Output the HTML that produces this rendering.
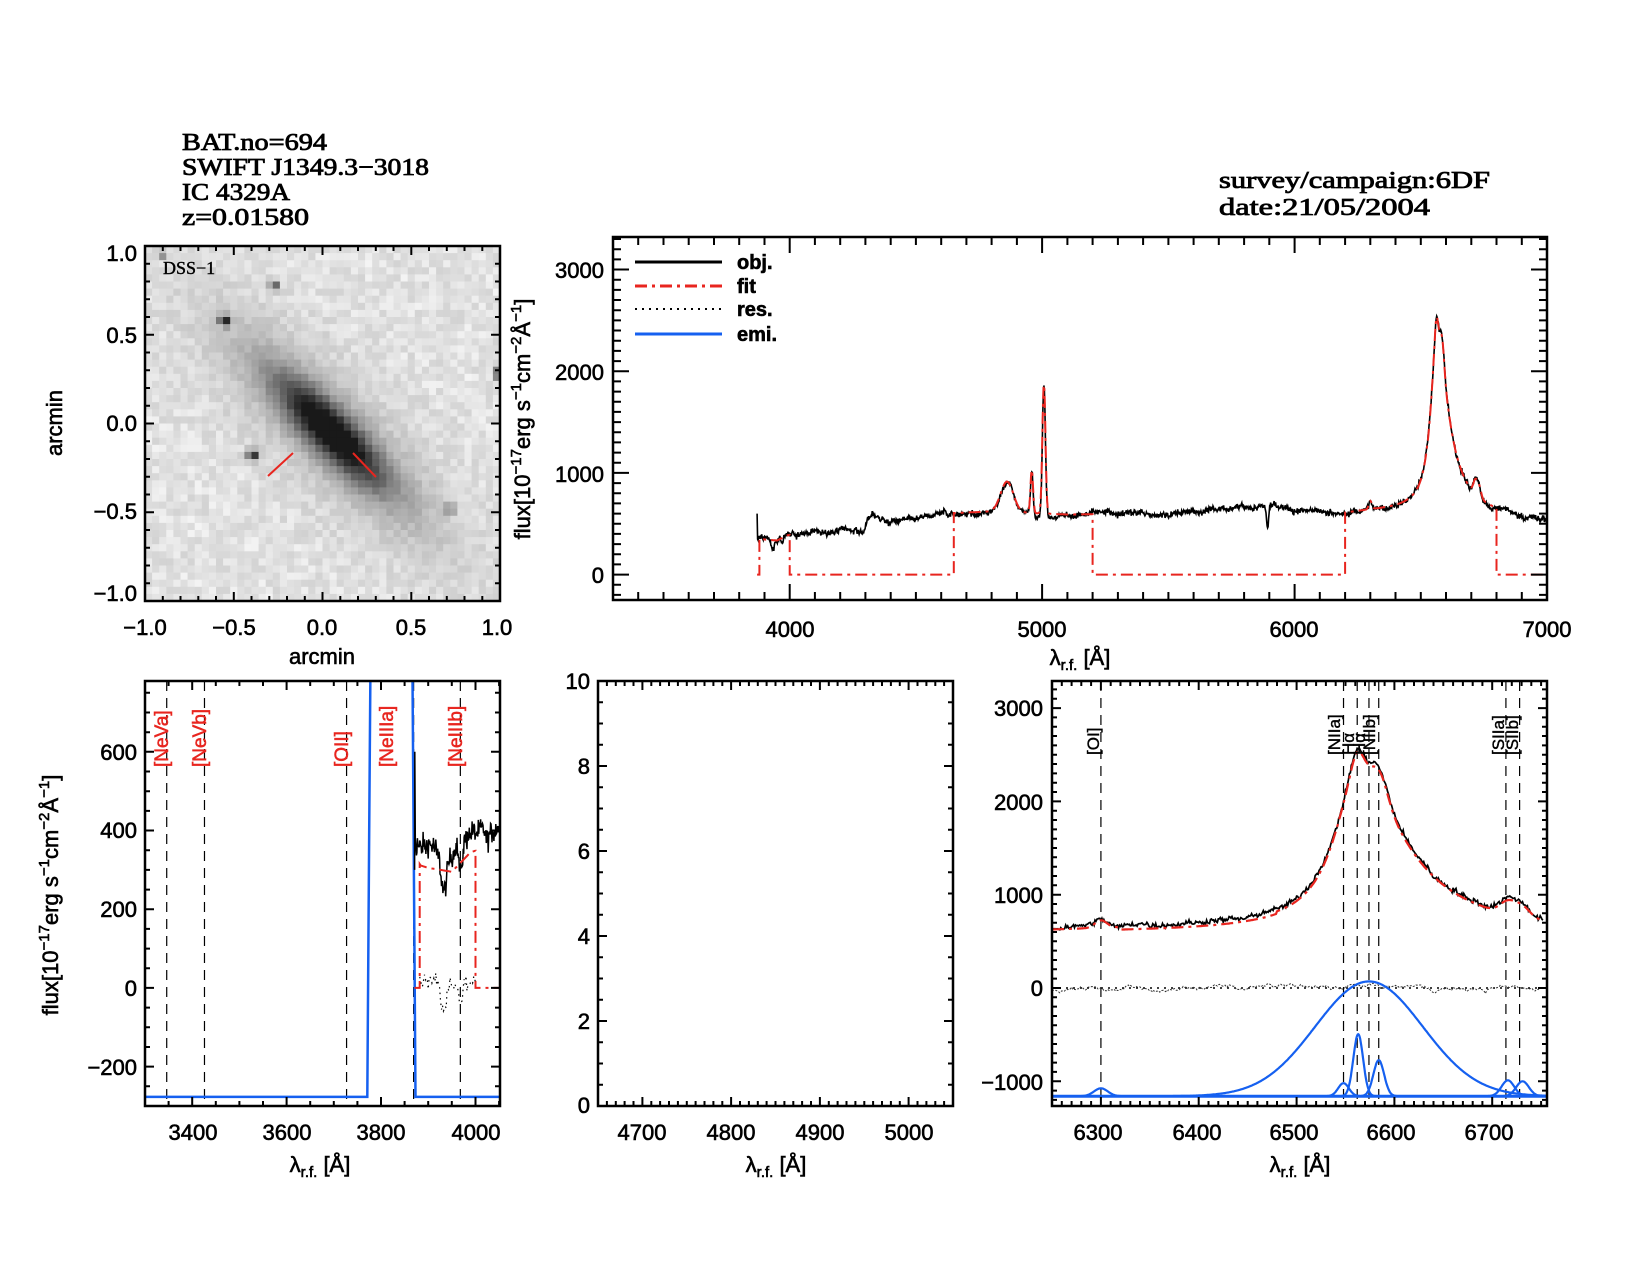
<!DOCTYPE html>
<html><head><meta charset="utf-8"><style>
html,body{margin:0;padding:0;background:#fff;}
svg{display:block;}
.t{font-family:"Liberation Sans",sans-serif;font-size:22px;fill:#000;stroke:#000;stroke-width:0.6;}
.h{font-family:"Liberation Serif",serif;font-size:24px;fill:#000;stroke:#000;stroke-width:0.8;}
.r{font-family:"Liberation Sans",sans-serif;font-size:19px;fill:#e8251f;stroke:#e8251f;stroke-width:0.5;}
.k{font-family:"Liberation Sans",sans-serif;font-size:17px;fill:#000;stroke:#000;stroke-width:0.4;}
</style></head><body>
<svg id="s" width="1650" height="1275" viewBox="0 0 1650 1275" xmlns="http://www.w3.org/2000/svg">
<defs>
<clipPath id="cImg"><rect x="145" y="246" width="355" height="355"/></clipPath>
<clipPath id="cTop"><rect x="613" y="237" width="934" height="363"/></clipPath>
<clipPath id="cBL"><rect x="145" y="681" width="355" height="425"/></clipPath>
<clipPath id="cBR"><rect x="1052" y="681" width="495" height="425"/></clipPath>
</defs>
<rect width="1650" height="1275" fill="#fff"/>
<g id="imgg" clip-path="url(#cImg)"></g>
<g id="topg" clip-path="url(#cTop)"></g>
<g id="blg" clip-path="url(#cBL)"></g>
<g id="brg" clip-path="url(#cBR)"></g>

<text class="h" x="182" y="150" textLength="145" lengthAdjust="spacingAndGlyphs">BAT.no=694</text>
<text class="h" x="182" y="175" textLength="247" lengthAdjust="spacingAndGlyphs">SWIFT J1349.3−3018</text>
<text class="h" x="182" y="200" textLength="108" lengthAdjust="spacingAndGlyphs">IC 4329A</text>
<text class="h" x="182" y="225" textLength="127" lengthAdjust="spacingAndGlyphs">z=0.01580</text>
<text class="h" x="1219" y="188" textLength="271" lengthAdjust="spacingAndGlyphs">survey/campaign:6DF</text>
<text class="h" x="1219" y="215" textLength="211" lengthAdjust="spacingAndGlyphs">date:21/05/2004</text>

<text class="h" x="163" y="274" style="font-size:18px;stroke-width:0.4">DSS−1</text>
<g class="t" text-anchor="end">
<text x="137" y="261">1.0</text><text x="137" y="343">0.5</text><text x="137" y="431">0.0</text><text x="137" y="519">−0.5</text><text x="137" y="601">−1.0</text>
</g>
<g class="t" text-anchor="middle">
<text x="145" y="635">−1.0</text><text x="234" y="635">−0.5</text><text x="322" y="635">0.0</text><text x="411" y="635">0.5</text><text x="497" y="635">1.0</text>
<text x="322" y="664">arcmin</text>
<text transform="translate(62,423) rotate(-90)">arcmin</text>
</g>

<g class="t" text-anchor="end">
<text x="604" y="278">3000</text><text x="604" y="380">2000</text><text x="604" y="482">1000</text><text x="604" y="583">0</text>
</g>
<g class="t" text-anchor="middle">
<text x="790" y="637">4000</text><text x="1042" y="637">5000</text><text x="1294" y="637">6000</text><text x="1547" y="637">7000</text>
<text x="1080" y="665">λ<tspan font-size="15" dy="5">r.f.</tspan><tspan dy="-5"> [Å]</tspan></text>
<text transform="translate(530,419) rotate(-90)">flux[10<tspan dy="-9" font-size="15">−17</tspan><tspan dy="9">erg s</tspan><tspan dy="-9" font-size="15">−1</tspan><tspan dy="9">cm</tspan><tspan dy="-9" font-size="15">−2</tspan><tspan dy="9">Å</tspan><tspan dy="-9" font-size="15">−1</tspan><tspan dy="9">]</tspan></text>
</g>
<g class="t" style="font-weight:bold;font-size:20px">
<text x="737" y="269">obj.</text><text x="737" y="293">fit</text><text x="737" y="316">res.</text><text x="737" y="341">emi.</text>
</g>

<g class="t" text-anchor="end">
<text x="137" y="760">600</text><text x="137" y="838">400</text><text x="137" y="917">200</text><text x="137" y="996">0</text><text x="137" y="1075">−200</text>
</g>
<g class="t" text-anchor="middle">
<text x="193" y="1140">3400</text><text x="287" y="1140">3600</text><text x="381" y="1140">3800</text><text x="476" y="1140">4000</text>
<text x="320" y="1172">λ<tspan font-size="15" dy="5">r.f.</tspan><tspan dy="-5"> [Å]</tspan></text>
<text transform="translate(58,895) rotate(-90)">flux[10<tspan dy="-9" font-size="15">−17</tspan><tspan dy="9">erg s</tspan><tspan dy="-9" font-size="15">−1</tspan><tspan dy="9">cm</tspan><tspan dy="-9" font-size="15">−2</tspan><tspan dy="9">Å</tspan><tspan dy="-9" font-size="15">−1</tspan><tspan dy="9">]</tspan></text>
</g>
<g class="r">
<text transform="translate(168,767) rotate(-90)">[NeVa]</text>
<text transform="translate(206,767) rotate(-90)">[NeVb]</text>
<text transform="translate(348,767) rotate(-90)">[OII]</text>
<text transform="translate(393,767) rotate(-90)">[NeIIIa]</text>
<text transform="translate(462,767) rotate(-90)">[NeIIIb]</text>
</g>

<g class="t" text-anchor="end">
<text x="590" y="689">10</text><text x="590" y="774">8</text><text x="590" y="859">6</text><text x="590" y="944">4</text><text x="590" y="1029">2</text><text x="590" y="1113">0</text>
</g>
<g class="t" text-anchor="middle">
<text x="642" y="1140">4700</text><text x="731" y="1140">4800</text><text x="820" y="1140">4900</text><text x="909" y="1140">5000</text>
<text x="776" y="1172">λ<tspan font-size="15" dy="5">r.f.</tspan><tspan dy="-5"> [Å]</tspan></text>
</g>

<g class="t" text-anchor="end">
<text x="1043" y="716">3000</text><text x="1043" y="810">2000</text><text x="1043" y="903">1000</text><text x="1043" y="996">0</text><text x="1043" y="1090">−1000</text>
</g>
<g class="t" text-anchor="middle">
<text x="1098" y="1140">6300</text><text x="1197" y="1140">6400</text><text x="1294" y="1140">6500</text><text x="1391" y="1140">6600</text><text x="1489" y="1140">6700</text>
<text x="1300" y="1172">λ<tspan font-size="15" dy="5">r.f.</tspan><tspan dy="-5"> [Å]</tspan></text>
</g>
<g class="k">
<text transform="translate(1099,755) rotate(-90)">[OI]</text>
<text transform="translate(1340,755) rotate(-90)">[NIIa]</text>
<text transform="translate(1354,755) rotate(-90)">Hα</text>
<text transform="translate(1365,755) rotate(-90)">Hα</text>
<text transform="translate(1375,755) rotate(-90)">[NIIb]</text>
<text transform="translate(1504,755) rotate(-90)">[SIIa]</text>
<text transform="translate(1518,755) rotate(-90)">[SIIb]</text>
</g>
</svg>
<script>
const NS='http://www.w3.org/2000/svg';
const svg=document.getElementById('s');
function el(tag,a,parent){const e=document.createElementNS(NS,tag);for(const k in a)e.setAttribute(k,a[k]);(parent||svg).appendChild(e);return e;}
let seed=12345;function rnd(){seed=(seed*1103515245+12345)%2147483648;return seed/2147483648;}
function gn(){return (rnd()+rnd()+rnd()+rnd()-2)*1.7;}
function panel(x0,x1,y0,y1,xa,xb,ya,yb){const p={x0,x1,y0,y1,xa,xb,ya,yb};
 p.X=v=>x0+(v-xa)/(xb-xa)*(x1-x0);p.Y=v=>y1-(v-ya)/(yb-ya)*(y1-y0);return p;}
function ticks(p,xmaj,xmin,ymaj,ymin,L,l){
 let d='';
 for(let i=Math.ceil(p.xa/xmin-1e-9);i*xmin<=p.xb+1e-9;i++){const v=i*xmin,x=p.X(v).toFixed(1);
  const m=Math.abs(v/xmaj-Math.round(v/xmaj))<1e-6;const t=m?L:l;d+=`M${x} ${p.y1}v${-t}M${x} ${p.y0}v${t}`;}
 for(let i=Math.ceil(p.ya/ymin-1e-9);i*ymin<=p.yb+1e-9;i++){const v=i*ymin,y=p.Y(v).toFixed(1);
  const m=Math.abs(v/ymaj-Math.round(v/ymaj))<1e-6;const t=m?L:l;d+=`M${p.x0} ${y}h${t}M${p.x1} ${y}h${-t}`;}
 el('path',{d,stroke:'#000','stroke-width':2,fill:'none'});
 el('rect',{x:p.x0,y:p.y0,width:p.x1-p.x0,height:p.y1-p.y0,fill:'none',stroke:'#000','stroke-width':2.5});
}
function pth(p,pts,a,g){let d='';pts.forEach((q,i)=>{d+=(i?'L':'M')+p.X(q[0]).toFixed(1)+' '+p.Y(q[1]).toFixed(1);});
 const o={d,fill:'none'};for(const k in a)o[k]=a[k];return el('path',o,g);}
const G=(l,c,a,s)=>a*Math.exp(-0.5*((l-c)/s)**2);
const K=[[3860,360],[3900,345],[3950,335],[3990,385],[4050,405],[4100,420],[4290,440],[4300,520],[4330,600],[4360,560],[4400,520],[4600,600],[4700,610],[4800,620],[5100,590],[5500,600],[5800,660],[5880,700],[5950,650],[6200,600],[6300,625],[6450,640],[6650,620],[6800,570],[7000,525]];
function cont(l){for(let i=0;i<K.length-1;i++){if(l<=K[i+1][0]){const f=(l-K[i][0])/(K[i+1][0]-K[i][0]);return K[i][1]+f*(K[i+1][1]-K[i][1]);}}return 525;}
function lines(l){let v=0;
 v+=G(l,4861,300,25)+G(l,4959,430,5)+G(l,5007,1280,6)+G(l,5893,-230,4)+G(l,6300,80,6);
 v+=G(l,3934,-100,6)+G(l,3968,-70,4);
 const d=l-6563,g=d<0?29:55;v+=1700/(1+(d/g)**2)+G(l,6563,200,6)+G(l,6585,230,8)+G(l,6716,130,8)+G(l,6731,110,8);
 return v;}
const noise={};for(let l=3860;l<=7010;l++){noise[l]=gn()*14;}
let sm=0;const slow={};for(let l=3860;l<=7010;l++){sm=sm*0.97+gn()*4;slow[l]=sm;}
function obj(l){const li=Math.round(l);let v=cont(l)+lines(l)+noise[li]+slow[li];if(l<3873)v=600;return v;}
function model(l){return cont(l)+lines(l)-G(l,3934,-100,6)-G(l,3968,-70,4)-G(l,5893,-230,4);}

(function(){const g=document.getElementById('imgg');const N=50,cs=355/N;
 const cx=0.05,cy=-0.05;const ca=Math.cos(-Math.PI/4),sa=Math.sin(-Math.PI/4);
 const stars=[[-0.55,0.58,0.9,0.03],[-0.27,0.78,0.6,0.025],[-0.39,-0.18,0.85,0.03],[1.0,0.28,0.9,0.03],[0.72,-0.48,0.5,0.025],[-0.9,0.95,0.4,0.02]];
 for(let i=0;i<N;i++)for(let j=0;j<N;j++){
  const x=-1+(i+0.5)*2/N,y=1-(j+0.5)*2/N;
  const dx=x-cx,dy=y-cy;const u=dx*ca+dy*sa,v=-dx*sa+dy*ca;
  let d=0.95*Math.exp(-((u/0.34)**2+(v/0.1)**2))+0.3*Math.exp(-((u/0.62)**2+(v/0.17)**2))+0.08*Math.exp(-((u/0.95)**2+(v/0.32)**2));
  for(const s of stars)d+=s[2]*Math.exp(-(((x-s[0])**2+(y-s[1])**2)/(s[3]*s[3])));
  d=Math.min(1,d+rnd()*0.08);
  const c=Math.round(244-(244-25)*Math.pow(d,0.75));
  el('rect',{x:(145+i*cs).toFixed(2),y:(246+j*cs).toFixed(2),width:(cs+0.4).toFixed(2),height:(cs+0.4).toFixed(2),fill:`rgb(${c},${c},${c})`},g);}
 el('line',{x1:268,y1:476,x2:293,y2:453,stroke:'#e8251f','stroke-width':2},g);
 el('line',{x1:353,y1:453,x2:376,y2:477,stroke:'#e8251f','stroke-width':2},g);
 const p=panel(145,500,246,601,-1,1,-1,1);ticks(p,0.5,0.1,0.5,0.1,9,5);
})();

(function(){const g=document.getElementById('topg');const p=panel(613,1547,237,600,3300,7000,-250,3320);
 const o=[];for(let l=3871;l<=7000;l+=2)o.push([l,obj(l)]);
 pth(p,o,{stroke:'#000','stroke-width':1.6},g);
 const W=[[3880,4000],[4650,5200],[6200,6800]];const f=[[3871,0],[3880,0]];
 for(let w=0;w<W.length;w++){const [a,b]=W[w];f.push([a,0]);for(let l=a;l<=b;l+=2)f.push([l,model(l)]);f.push([b,0]);
  const nx=w<W.length-1?W[w+1][0]:7000;f.push([nx,0]);}
 pth(p,f,{stroke:'#e8251f','stroke-width':2,'stroke-dasharray':'12 5 3 5'},g);
 ticks(p,1000,100,1000,100,16,8);
 el('line',{x1:635,y1:262,x2:722,y2:262,stroke:'#000','stroke-width':3});
 el('line',{x1:635,y1:286,x2:722,y2:286,stroke:'#e8251f','stroke-width':3,'stroke-dasharray':'12 5 3 5'});
 el('line',{x1:635,y1:309,x2:722,y2:309,stroke:'#000','stroke-width':2,'stroke-dasharray':'2 5'});
 el('line',{x1:635,y1:334,x2:722,y2:334,stroke:'#1560f0','stroke-width':3});
})();

(function(){const g=document.getElementById('blg');const p=panel(145,500,681,1106,3300,4052,-300,780);
 [3346,3426,3727,3869,3968].forEach(l=>{const x=p.X(l);el('line',{x1:x,y1:681,x2:x,y2:1106,stroke:'#000','stroke-width':1.2,'stroke-dasharray':'10 7'},g);});
 const b=-277;
 pth(p,[[3300,b],[3771,b],[3775,400],[3778,900],[3866,900],[3869,400],[3873,b],[4052,b]],{stroke:'#1560f0','stroke-width':2.5},g);
 const o=[[3871,300],[3871.5,600],[3872.5,380]];for(let l=3874;l<=4052;l+=1)o.push([l,obj(l)]);
 pth(p,o,{stroke:'#000','stroke-width':1.5},g);
 const f=[[3871,0],[3882,0],[3882,315]];for(let l=3884;l<=4000;l+=2)f.push([l,model(l)-40]);f.push([4000,0],[4052,0]);
 pth(p,f,{stroke:'#e8251f','stroke-width':2,'stroke-dasharray':'12 5 3 5'},g);
 const r=[];for(let l=3882;l<=4000;l+=2)r.push([l,(obj(l)-model(l))*0.8+10]);
 pth(p,r,{stroke:'#000','stroke-width':1.2,'stroke-dasharray':'1.5 4'},g);
 ticks(p,200,50,200,50,9,5);
})();

(function(){const p=panel(598,953,681,1106,4650,5050,0,10);ticks(p,100,10,2,0.5,9,5);})();

(function(){const g=document.getElementById('brg');const p=panel(1052,1547,681,1106,6250,6756,-1265,3290);
 [6300,6548,6562,6574,6584,6714,6728].forEach(l=>{const x=p.X(l);el('line',{x1:x,y1:681,x2:x,y2:1106,stroke:'#000','stroke-width':1.2,'stroke-dasharray':'10 7'},g);});
 el('line',{x1:1052,y1:p.Y(0),x2:1547,y2:p.Y(0),stroke:'#000','stroke-width':1.5,'stroke-dasharray':'2 5'},g);
 const o=[],f=[],r=[];let rs=0;
 for(let l=6250;l<=6752;l+=1){o.push([l,obj(l)+20]);f.push([l,model(l)-(l<6480&&l>6320?25:0)]);rs=rs*0.9+gn()*6;r.push([l,rs+slow[l]*1.5]);}
 pth(p,o,{stroke:'#000','stroke-width':1.7},g);
 pth(p,f,{stroke:'#e8251f','stroke-width':2.2,'stroke-dasharray':'12 5 3 5'},g);
 pth(p,r,{stroke:'#333','stroke-width':1,'stroke-dasharray':'2 1.5'},g);
 const b=-1160;const comps=[[6574,1230,55],[6563,665,5],[6584,386,5.5],[6548,140,5.5],[6716,170,6.5],[6731,160,6.5],[6300,85,7]];
 for(const c of comps){const q=[];for(let l=Math.max(6250,c[0]-4.5*c[2]);l<=Math.min(6756,c[0]+4.5*c[2]);l+=0.5)q.push([l,b+G(l,c[0],c[1],c[2])]);
  pth(p,q,{stroke:'#1560f0','stroke-width':2.2},g);}
 pth(p,[[6250,b],[6756,b]],{stroke:'#1560f0','stroke-width':3},g);
 ticks(p,100,10,1000,100,9,5);
})();
</script>
</body></html>
